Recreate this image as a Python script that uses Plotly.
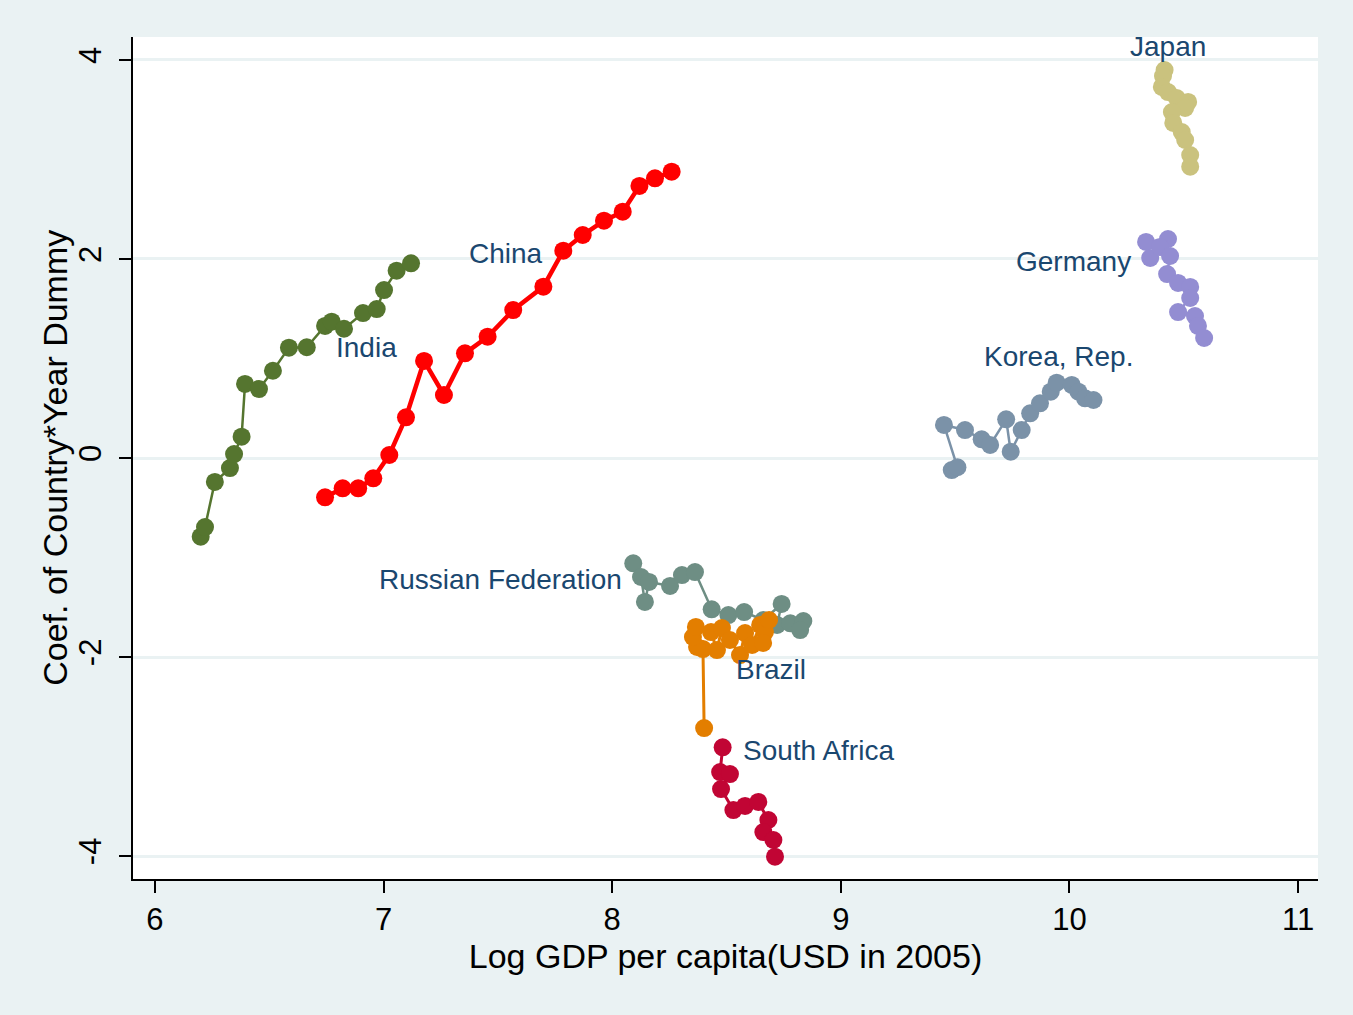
import plotly.graph_objects as go

# Log GDP per capita (x) and coefficient of country*year dummy (y), by country
india_x = [6.200, 6.219, 6.262, 6.328, 6.346, 6.379, 6.394, 6.455, 6.516, 6.586,
           6.664, 6.744, 6.773, 6.827, 6.910, 6.970, 7.002, 7.057, 7.120]
india_y = [-0.791, -0.694, -0.241, -0.101, 0.040, 0.214, 0.744, 0.693, 0.877, 1.109,
           1.113, 1.327, 1.370, 1.299, 1.457, 1.497, 1.688, 1.882, 1.957]

china_x = [6.744, 6.821, 6.889, 6.955, 7.025, 7.098, 7.177, 7.264, 7.356, 7.455,
           7.567, 7.699, 7.786, 7.871, 7.964, 8.046, 8.119, 8.187, 8.260]
china_y = [-0.395, -0.305, -0.305, -0.204, 0.030, 0.409, 0.975, 0.633, 1.052, 1.219,
           1.487, 1.722, 2.083, 2.241, 2.385, 2.475, 2.734, 2.811, 2.877]

japan_x = [10.416, 10.409, 10.404, 10.431, 10.469, 10.519, 10.506, 10.448, 10.454,
           10.491, 10.506, 10.528, 10.528]
japan_y = [3.899, 3.839, 3.729, 3.678, 3.618, 3.578, 3.518, 3.477, 3.367,
           3.276, 3.196, 3.045, 2.928]

germany_x = [10.335, 10.431, 10.353, 10.396, 10.440, 10.427, 10.475, 10.528, 10.528,
             10.475, 10.549, 10.562, 10.589]
germany_y = [2.171, 2.201, 2.010, 2.121, 2.030, 1.849, 1.759, 1.719, 1.608,
             1.467, 1.427, 1.327, 1.206]

korea_x = [9.485, 9.510, 9.451, 9.543, 9.616, 9.653, 9.723, 9.743, 9.791, 9.828,
           9.871, 9.918, 9.944, 10.010, 10.039, 10.068, 10.105]
korea_y = [-0.121, -0.093, 0.332, 0.281, 0.188, 0.131, 0.389, 0.063, 0.281, 0.449,
           0.550, 0.666, 0.757, 0.734, 0.666, 0.600, 0.583]

russia_x = [8.092, 8.126, 8.143, 8.161, 8.253, 8.305, 8.362, 8.435, 8.508, 8.577,
            8.661, 8.741, 8.721, 8.779, 8.836, 8.822]
russia_y = [-1.058, -1.196, -1.447, -1.246, -1.286, -1.176, -1.146, -1.521, -1.578, -1.548,
            -1.628, -1.467, -1.678, -1.661, -1.638, -1.729]

brazil_x = [8.402, 8.397, 8.371, 8.353, 8.366, 8.432, 8.458, 8.480, 8.515, 8.559,
            8.581, 8.612, 8.647, 8.668, 8.660, 8.686]
brazil_y = [-2.714, -1.920, -1.899, -1.799, -1.698, -1.749, -1.930, -1.709, -1.829, -1.980,
            -1.759, -1.879, -1.678, -1.749, -1.859, -1.628]

safrica_x = [8.483, 8.472, 8.515, 8.476, 8.530, 8.581, 8.639, 8.683, 8.661, 8.705, 8.712]
safrica_y = [-2.908, -3.156, -3.176, -3.327, -3.538, -3.497, -3.457, -3.638, -3.759, -3.839, -4.007]

# Axis ticks
x_ticks = [6, 7, 8, 9, 10, 11]
y_ticks = [-4, -2, 0, 2, 4]
y_tick_text = ["-4", "-2", "0", "2", "4"]

# Country name labels: (text, x, y, anchor)
labels = [
    ("India", 6.783, 1.106, "left"),
    ("China", 7.706, 2.060, "right"),
    ("Japan", 10.431, 4.131, "center"),
    ("Germany", 10.278, 1.970, "right"),
    ("Korea, Rep.", 9.618, 1.025, "left"),
    ("Russian Federation", 8.052, -1.216, "right"),
    ("Brazil", 8.533, -2.121, "left"),
    ("South Africa", 8.563, -2.935, "left"),
]

series = [
    (india_x, india_y, "#55752F", 2.5),
    (china_x, china_y, "#FF0000", 4.5),
    (japan_x, japan_y, "#CAC27E", 2.5),
    (germany_x, germany_y, "#938DD2", 2.5),
    (korea_x, korea_y, "#7B92A8", 2.5),
    (russia_x, russia_y, "#6E8E84", 2.5),
    (brazil_x, brazil_y, "#E37E00", 3),
    (safrica_x, safrica_y, "#C10534", 3),
]

BG = "#EAF2F3"
NAVY = "#1A476F"
FONT = "Liberation Sans, Arial, sans-serif"

fig = go.Figure()
for xs, ys, col, lw in series:
    fig.add_trace(go.Scatter(
        x=xs, y=ys, mode="lines+markers",
        line=dict(color=col, width=lw),
        marker=dict(color=col, size=18, line=dict(width=0)),
        showlegend=False, hoverinfo="skip",
    ))

for text, lx, ly, anchor in labels:
    fig.add_annotation(
        x=lx, y=ly, text=text, showarrow=False,
        xanchor=anchor, yanchor="middle",
        font=dict(family=FONT, size=28, color=NAVY),
    )

# Vertical axis title, placed just left of the tick labels
fig.add_annotation(
    xref="paper", yref="paper", x=-0.066, y=0.5,
    text="Coef. of Country*Year Dummy", textangle=-90, showarrow=False,
    xanchor="center", yanchor="middle",
    font=dict(family=FONT, size=34, color="black"),
)

fig.update_layout(
    width=1353, height=1015,
    margin=dict(l=133, r=35, t=37, b=136),
    paper_bgcolor=BG, plot_bgcolor="white",
    font=dict(family=FONT, color="black"),
    showlegend=False,
)

fig.update_xaxes(
    range=[5.904, 11.087], tickvals=x_ticks,
    showgrid=False, zeroline=False,
    showline=True, linecolor="black", linewidth=2,
    ticks="outside", ticklen=12, tickwidth=2, tickcolor="black",
    tickfont=dict(family=FONT, size=31, color="black"),
    title=dict(text="Log GDP per capita(USD in 2005)",
               font=dict(family=FONT, size=34, color="black"), standoff=4),
)

fig.update_yaxes(
    range=[-4.231, 4.231], tickvals=y_ticks, ticktext=y_tick_text,
    showgrid=True, gridcolor=BG, gridwidth=3, zeroline=False,
    showline=True, linecolor="black", linewidth=2,
    ticks="outside", ticklen=12, tickwidth=2, tickcolor="black",
    tickangle=-90, ticklabelstandoff=6,
    tickfont=dict(family=FONT, size=31, color="black"),
)

fig.write_html("out.html")
